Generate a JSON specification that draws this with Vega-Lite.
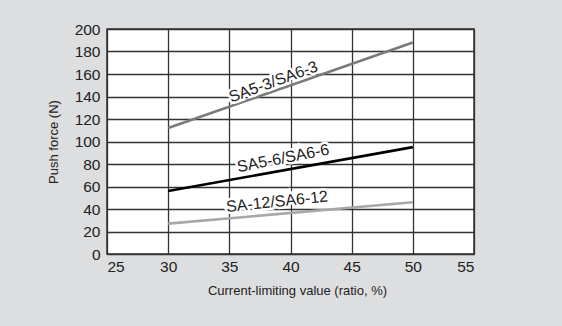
{
  "$schema": "https://vega.github.io/schema/vega-lite/v6.json",
  "width": 367,
  "height": 225,
  "autosize": "none",
  "padding": {"left": 107, "top": 29, "right": 88, "bottom": 72},
  "background": "#dddee0",
  "config": {
    "font": "Liberation Sans",
    "view": {"fill": "white", "stroke": "#333", "strokeWidth": 1.5},
    "axis": {
      "gridColor": "#333",
      "gridOpacity": 1,
      "gridWidth": 1.3,
      "domain": false,
      "ticks": false,
      "labelFont": "Liberation Sans",
      "labelFontSize": 15.5,
      "labelColor": "#222",
      "titleFont": "Liberation Sans",
      "titleFontSize": 13,
      "titleFontWeight": "normal",
      "titleColor": "#222"
    }
  },
  "datasets": {
    "lines": [
      {"series": "SA5-3/SA6-3", "ratio": 30, "force": 112},
      {"series": "SA5-3/SA6-3", "ratio": 50, "force": 188},
      {"series": "SA5-6/SA6-6", "ratio": 30, "force": 56},
      {"series": "SA5-6/SA6-6", "ratio": 50, "force": 95},
      {"series": "SA-12/SA6-12", "ratio": 30, "force": 27},
      {"series": "SA-12/SA6-12", "ratio": 50, "force": 46}
    ],
    "labels": [
      {"label": "SA5-3/SA6-3", "ratio": 38.6, "force": 153},
      {"label": "SA5-6/SA6-6", "ratio": 39.4, "force": 85},
      {"label": "SA-12/SA6-12", "ratio": 38.9, "force": 46.5}
    ]
  },
  "encoding": {
    "x": {
      "field": "ratio", "type": "quantitative",
      "scale": {"domain": [25, 55], "nice": false},
      "axis": {"values": [25, 30, 35, 40, 45, 50, 55], "title": "Current-limiting value (ratio, %)", "labelPadding": 5, "titlePadding": 10, "titleX": 190}
    },
    "y": {
      "field": "force", "type": "quantitative",
      "scale": {"domain": [0, 200], "nice": false},
      "axis": {"values": [0, 20, 40, 60, 80, 100, 120, 140, 160, 180, 200], "title": "Push force (N)", "labelPadding": 7, "titlePadding": 14}
    }
  },
  "layer": [
    {
      "data": {"name": "lines"},
      "mark": {"type": "line", "strokeWidth": 2.6},
      "encoding": {
        "detail": {"field": "series"},
        "color": {
          "field": "series", "type": "nominal",
          "scale": {"domain": ["SA5-3/SA6-3", "SA5-6/SA6-6", "SA-12/SA6-12"], "range": ["#7a7a7a", "#000000", "#a8a8a8"]},
          "legend": null
        }
      }
    },
    {
      "data": {"name": "labels"},
      "transform": [{"filter": "datum.label == 'SA5-3/SA6-3'"}],
      "layer": [
        {"mark": {"type": "text", "angle": -20, "fontSize": 16, "stroke": "white", "strokeWidth": 5, "fill": "white"}, "encoding": {"text": {"field": "label"}}},
        {"mark": {"type": "text", "angle": -20, "fontSize": 16, "fill": "#222"}, "encoding": {"text": {"field": "label"}}}
      ]
    },
    {
      "data": {"name": "labels"},
      "transform": [{"filter": "datum.label == 'SA5-6/SA6-6'"}],
      "layer": [
        {"mark": {"type": "text", "angle": -11, "fontSize": 16, "stroke": "white", "strokeWidth": 5, "fill": "white"}, "encoding": {"text": {"field": "label"}}},
        {"mark": {"type": "text", "angle": -11, "fontSize": 16, "fill": "#222"}, "encoding": {"text": {"field": "label"}}}
      ]
    },
    {
      "data": {"name": "labels"},
      "transform": [{"filter": "datum.label == 'SA-12/SA6-12'"}],
      "layer": [
        {"mark": {"type": "text", "angle": -6, "fontSize": 16, "stroke": "white", "strokeWidth": 5, "fill": "white"}, "encoding": {"text": {"field": "label"}}},
        {"mark": {"type": "text", "angle": -6, "fontSize": 16, "fill": "#222"}, "encoding": {"text": {"field": "label"}}}
      ]
    }
  ]
}
